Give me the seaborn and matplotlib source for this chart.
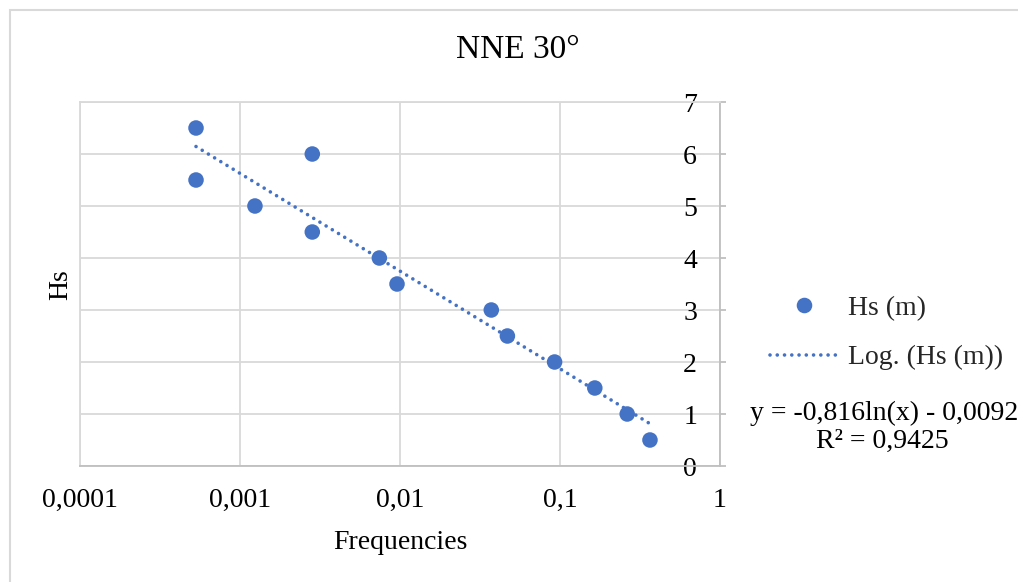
import numpy as np
import pandas as pd
import matplotlib
matplotlib.use("Agg")
import matplotlib.pyplot as plt
import seaborn as sns
from matplotlib.patches import Rectangle
from matplotlib.lines import Line2D
from matplotlib.ticker import FixedLocator, FixedFormatter, NullLocator

# ---- data ----
frequencies = [0.000531, 0.000531, 0.00124, 0.00283, 0.00283, 0.00743, 0.00958,
               0.0372, 0.0469, 0.0925, 0.165, 0.263, 0.365]
hs_values = [6.5, 5.5, 5.0, 6.0, 4.5, 4.0, 3.5, 3.0, 2.5, 2.0, 1.5, 1.0, 0.5]
trend_slope = -0.816
trend_intercept = -0.0092
x_tick_values = [0.0001, 0.001, 0.01, 0.1, 1]
x_tick_labels = ["0,0001", "0,001", "0,01", "0,1", "1"]
y_tick_values = [0, 1, 2, 3, 4, 5, 6, 7]
y_tick_labels = ["0", "1", "2", "3", "4", "5", "6", "7"]
title_text = "NNE 30°"
series_label = "Hs (m)"
trend_label = "Log. (Hs (m))"
equation_text = "y = -0,816ln(x) - 0,0092"
r2_text = "R² = 0,9425"

sns.set_theme(style="white")
plt.rcParams["font.family"] = ["Liberation Serif", "DejaVu Serif"]

BLUE = "#4472C4"
GRID = "#D9D9D9"
AXIS = "#BFBFBF"
FS = 20
LW = 2.6
DOTS = (0, (0.01, 2.0))

fig = plt.figure(figsize=(10.18, 5.82), dpi=100)
ax = fig.add_axes([80 / 1018, 1 - 466 / 582, 640 / 1018, 364 / 582])

df = pd.DataFrame({"freq": frequencies, "hs": hs_values})
sns.scatterplot(data=df, x="freq", y="hs", ax=ax, s=125, color=BLUE,
                edgecolor="none", linewidth=0, zorder=3, legend=False)

xs = np.logspace(np.log10(min(frequencies)), np.log10(max(frequencies)), 200)
trend = pd.DataFrame({"freq": xs, "hs": trend_slope * np.log(xs) + trend_intercept})
sns.lineplot(data=trend, x="freq", y="hs", ax=ax, color=BLUE, lw=LW,
             linestyle=DOTS, dash_capstyle="round", zorder=2, legend=False)

ax.set_xscale("log")
ax.set_xlim(0.0001, 1)
ax.set_ylim(0, 7)
ax.xaxis.set_major_locator(FixedLocator(x_tick_values))
ax.xaxis.set_major_formatter(FixedFormatter(x_tick_labels))
ax.xaxis.set_minor_locator(NullLocator())
ax.yaxis.set_major_locator(FixedLocator(y_tick_values))
ax.yaxis.set_major_formatter(FixedFormatter(y_tick_labels))

ax.grid(True, which="major", color=GRID, lw=1.3)
ax.set_axisbelow(True)
for side in ["top", "left"]:
    ax.spines[side].set_color(GRID)
    ax.spines[side].set_linewidth(1.3)
for side in ["bottom", "right"]:
    ax.spines[side].set_color(AXIS)
    ax.spines[side].set_linewidth(1.3)

ax.tick_params(axis="x", which="both", length=0, pad=16, labelsize=FS, colors="black")
ax.tick_params(axis="y", which="both", left=False, right=True, labelleft=False,
               labelright=True, direction="out", length=4, width=1.3, color=AXIS,
               pad=-30.5, labelsize=FS, labelcolor="black")

ax.set_xlabel("Frequencies", fontsize=FS, color="black")
ax.xaxis.label.set_va("center")
ax.xaxis.set_label_coords(0.5, -0.21)
ax.set_ylabel("Hs", fontsize=FS, color="black")
ax.yaxis.label.set_va("center")
ax.yaxis.set_label_coords(-0.03, 0.497)

fig.text(518 / 1018, 1 - 50 / 582, title_text, ha="center", va="center",
         fontsize=24, color="black")

handles = [
    Line2D([], [], linestyle="none", marker="o", markersize=11.2, color=BLUE,
           markeredgewidth=0),
    Line2D([], [], color=BLUE, lw=LW, linestyle=DOTS, dash_capstyle="round"),
]
leg = fig.legend(handles, [series_label, trend_label], loc="center left",
                 bbox_to_anchor=(770 / 1018, 1 - 333 / 582), frameon=False,
                 fontsize=FS, handlelength=2.45, handletextpad=0.35,
                 labelspacing=0.85, borderpad=0, borderaxespad=0)

fig.text(750 / 1018, 1 - 413 / 582, equation_text, ha="left", va="center",
         fontsize=FS, color="black")
fig.text(882 / 1018, 1 - 441 / 582, r2_text, ha="center", va="center",
         fontsize=FS, color="black")

fig.patches.append(Rectangle((10 / 1018, -0.1), 1.2, 1 - 10 / 582 + 0.1,
                             transform=fig.transFigure, fill=False,
                             edgecolor=GRID, lw=1.5, zorder=0))

fig.savefig("out.png", dpi=100, facecolor="white")
